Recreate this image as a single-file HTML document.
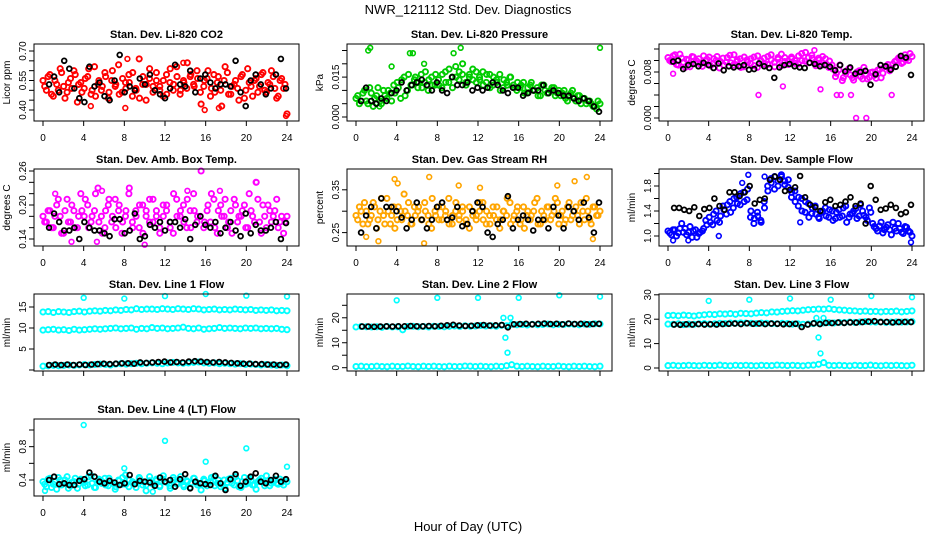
<!DOCTYPE html>
<html><head><meta charset="utf-8">
<style>
body{margin:0;background:#fff;}
svg{display:block;font-family:"Liberation Sans",Arial,sans-serif;}
</style></head>
<body>
<svg id="chart" width="936" height="540" viewBox="0 0 936 540">
<rect width="936" height="540" fill="#fff"/>
<text x="468" y="14" text-anchor="middle" font-size="13">NWR_121112  Std. Dev. Diagnostics</text>
<text x="468" y="531" text-anchor="middle" font-size="13">Hour of Day (UTC)</text>
</svg>
<script>
// ---- data ----
const xTicks = [0,4,8,12,16,20,24];
const co2 = [.55,.50,.58,.47,.53,.61,.52,.49,.56,.60,.44,.54,.51,.57,.48,.62,.53,.50,.59,.46,.55,.52,.63,.49,.54,.58,.47,.51,.66,.53,.45,.56,.52,.59,.50,.55,.48,.61,.53,.57,.50,.54,.64,.58,.52,.56,.43,.55,.60,.51,.49,.57,.42,.62,.48,.52,.55,.45,.58,.50,.54,.47,.56,.52,.59,.49,.53,.57,.46,.55,.51,.38];
const co2B = [.52,.57,.48,.55,.50,.59,.46,.54,.51,.58,.53,.49,.56,.61,.50,.47,.55,.52,.57,.49,.60,.53,.48,.56,.51,.54,.59,.50,.46,.57,.53,.61,.49,.55,.52,.47,.58,.54,.50,.62,.48,.55,.51,.57,.53,.60,.49,.52,.56,.47,.58,.54,.50,.55,.59,.48,.53,.51,.57,.46,.61,.52,.55,.49,.58,.50,.54,.60,.51,.47,.56,.53];
const co2Black = [.53,.57,.49,.65,.61,.51,.46,.44,.62,.52,.54,.47,.45,.55,.68,.49,.52,.50,.56,.53,.58,.50,.48,.46,.51,.63,.53,.52,.60,.49,.56,.58,.54,.51,.53,.53,.52,.65,.49,.42,.55,.58,.53,.48,.51,.58,.66,.51];
const co2OutT = [4.7,8.1,8.3,13.8,15.9,17.3,23.9];
const co2OutV = [.42,.41,.66,.64,.40,.41,.37];

const press = [.007,.005,.009,.006,.011,.004,.008,.006,.010,.007,.009,.012,.013,.007,.015,.010,.012,.014,.011,.016,.013,.010,.015,.012,.014,.011,.017,.013,.015,.019,.014,.016,.012,.015,.018,.013,.014,.012,.016,.011,.015,.013,.010,.014,.012,.015,.011,.013,.012,.009,.011,.013,.010,.008,.012,.010,.009,.011,.008,.010,.009,.007,.008,.010,.006,.008,.007,.005,.006,.004,.003,.005];
const pressB = [.008,.006,.010,.005,.009,.007,.011,.005,.008,.010,.006,.009,.011,.014,.008,.016,.012,.015,.013,.011,.017,.014,.012,.016,.012,.016,.013,.018,.011,.015,.017,.020,.013,.016,.014,.017,.015,.017,.013,.016,.012,.014,.016,.011,.013,.015,.012,.010,.011,.013,.009,.012,.010,.011,.008,.012,.009,.010,.011,.009,.008,.010,.006,.009,.007,.008,.005,.007,.006,.005,.004,.006];
const pressBlack = [.006,.011,.006,.005,.007,.006,.009,.010,.013,.010,.012,.013,.014,.012,.010,.013,.010,.009,.015,.012,.012,.013,.010,.011,.010,.011,.013,.012,.010,.009,.011,.011,.008,.009,.010,.010,.012,.009,.010,.009,.008,.008,.007,.006,.007,.006,.004,.002];
const pressOutT = [1.2,1.4,5.3,5.6,9.6,10.3,24,6.7,3.5,2.3];
const pressOutV = [.025,.026,.024,.024,.024,.026,.026,.020,.019,.004];

const temp = [.0105,.0098,.0110,.0092,.0104,.0088,.0101,.0107,.0095,.0103,.0090,.0099,.0106,.0094,.0100,.0087,.0104,.0097,.0109,.0092,.0098,.0103,.0089,.0101,.0095,.0106,.0088,.0100,.0104,.0093,.0110,.0097,.0102,.0091,.0105,.0099,.0103,.0095,.0108,.0100,.0114,.0096,.0104,.0091,.0101,.0107,.0094,.0099,.0085,.0078,.0092,.0070,.0082,.0075,.0066,.0080,.0072,.0088,.0068,.0079,.0074,.0083,.0070,.0089,.0093,.0086,.0098,.0104,.0095,.0110,.0100,.0107];
const tempB = [.0100,.0108,.0093,.0111,.0097,.0102,.0089,.0106,.0099,.0094,.0108,.0102,.0091,.0103,.0107,.0098,.0092,.0105,.0096,.0110,.0101,.0088,.0106,.0097,.0103,.0091,.0108,.0099,.0094,.0107,.0101,.0089,.0105,.0111,.0098,.0093,.0106,.0100,.0094,.0112,.0099,.0105,.0109,.0097,.0104,.0092,.0103,.0088,.0092,.0072,.0084,.0065,.0077,.0086,.0070,.0074,.0082,.0068,.0076,.0071,.0080,.0069,.0085,.0078,.0090,.0082,.0094,.0100,.0106,.0097,.0103,.0112];
const tempBlack = [.0098,.0100,.0085,.0092,.0094,.0090,.0096,.0092,.0087,.0095,.0083,.0090,.0088,.0090,.0092,.0084,.0085,.0095,.0090,.0087,.0070,.0088,.0092,.0094,.0090,.0088,.0087,.0096,.0094,.0090,.0092,.0089,.0083,.0092,.0081,.0088,.0077,.0080,.0082,.0058,.0076,.0092,.0090,.0084,.0089,.0108,.0105,.0075];
const tempOutT = [8.9,11.3,15.0,16.6,17.0,18.5,19.5,18.0,22.0,14.4,0.5];
const tempOutV = [.0040,.0055,.0050,.0040,.0040,.0000,.0000,.0040,.0040,.0118,.0077];

const amb = [.18,.17,.19,.16,.20,.18,.15,.21,.17,.19,.16,.22,.18,.20,.17,.19,.23,.18,.16,.20,.17,.21,.19,.15,.18,.22,.17,.19,.16,.20,.18,.17,.21,.19,.15,.18,.20,.16,.22,.18,.19,.17,.21,.16,.19,.18,.26,.17,.20,.22,.16,.19,.18,.21,.17,.15,.20,.18,.19,.16,.22,.18,.24,.17,.20,.16,.19,.18,.21,.17,.15,.18];
const ambB = [.17,.19,.16,.18,.21,.15,.19,.17,.20,.16,.18,.19,.21,.16,.18,.22,.17,.15,.19,.21,.18,.16,.20,.17,.19,.23,.16,.18,.20,.15,.19,.21,.17,.18,.16,.20,.19,.17,.15,.21,.18,.20,.16,.19,.22,.17,.18,.16,.19,.17,.21,.15,.20,.18,.16,.19,.21,.17,.18,.20,.16,.19,.17,.21,.15,.18,.20,.17,.19,.16,.18,.17];
const ambBlack = [.16,.185,.17,.155,.155,.16,.14,.17,.16,.155,.155,.15,.145,.175,.175,.15,.155,.185,.14,.145,.165,.16,.17,.155,.17,.17,.16,.175,.14,.165,.18,.165,.16,.17,.15,.16,.17,.155,.145,.185,.15,.165,.155,.155,.16,.17,.14,.168];
const ambOutT = [1.2,2.8,10,5.3,5.8,14.2,21,17.4];
const ambOutV = [.22,.135,.13,.135,.225,.225,.24,.225];

const rh = [.29,.31,.27,.30,.28,.32,.26,.30,.29,.33,.27,.31,.28,.30,.34,.29,.27,.31,.30,.28,.32,.29,.26,.30,.31,.28,.29,.33,.27,.30,.29,.31,.28,.26,.30,.29,.32,.28,.30,.27,.29,.31,.28,.30,.33,.27,.29,.31,.28,.26,.30,.29,.32,.27,.30,.28,.31,.29,.33,.27,.30,.28,.32,.29,.31,.27,.30,.33,.28,.31,.29,.30];
const rhB = [.28,.30,.32,.27,.29,.31,.28,.33,.27,.30,.29,.26,.31,.28,.30,.32,.27,.29,.31,.28,.30,.27,.33,.29,.28,.31,.30,.27,.29,.32,.28,.30,.27,.31,.29,.28,.30,.32,.27,.29,.31,.28,.26,.30,.29,.32,.28,.30,.27,.31,.29,.28,.30,.33,.27,.29,.31,.28,.30,.32,.29,.27,.31,.28,.30,.29,.32,.28,.30,.27,.31,.29];
const rhBlack = [.25,.29,.31,.26,.33,.31,.31,.30,.285,.26,.28,.32,.28,.26,.28,.31,.32,.28,.285,.31,.265,.27,.30,.32,.31,.25,.24,.27,.28,.335,.26,.28,.29,.28,.255,.28,.28,.26,.31,.29,.26,.31,.30,.28,.32,.285,.25,.32];
const rhOutT = [3.8,4.1,7.2,6.7,2.2,10.1,19.8,22.7,21.5,23.3,1.0,12.2];
const rhOutV = [.375,.365,.38,.225,.23,.36,.36,.38,.37,.235,.24,.355];

const flow = [1.08,1.02,1.10,1.05,1.20,1.12,1.06,0.98,1.10,1.04,1.08,1.25,1.30,1.18,1.40,1.22,1.48,1.35,1.55,1.45,1.62,1.50,1.70,1.58,1.30,1.20,1.38,1.25,1.55,1.80,1.92,1.75,1.88,1.95,1.82,1.90,1.70,1.55,1.62,1.40,1.55,1.30,1.45,1.35,1.28,1.40,1.32,1.42,1.25,1.38,1.30,1.45,1.22,1.35,1.40,1.28,1.50,1.33,1.25,1.38,1.15,1.08,1.22,1.10,1.18,1.02,1.12,1.20,1.06,1.15,1.08,1.00];
const flowB = [1.05,1.10,1.00,1.12,1.06,1.02,1.15,1.08,0.98,1.06,1.12,1.18,1.22,1.35,1.25,1.32,1.42,1.50,1.38,1.60,1.52,1.68,1.55,1.75,1.40,1.28,1.32,1.22,1.45,1.72,1.85,1.95,1.80,1.98,1.88,1.78,1.62,1.72,1.48,1.60,1.38,1.52,1.36,1.48,1.30,1.38,1.45,1.30,1.40,1.28,1.42,1.32,1.48,1.30,1.36,1.44,1.32,1.40,1.30,1.45,1.20,1.12,1.16,1.05,1.14,1.10,1.22,1.08,1.12,1.04,1.14,1.06];
const flowBlack = [1.45,1.45,1.42,1.40,1.46,1.32,1.43,1.45,1.60,1.48,1.42,1.70,1.70,1.64,1.70,1.80,1.52,1.58,1.60,1.90,1.95,1.90,1.72,1.74,1.78,1.96,1.62,1.50,1.46,1.40,1.54,1.58,1.48,1.50,1.55,1.62,1.48,1.52,1.20,1.80,1.58,1.42,1.44,1.50,1.45,1.35,1.38,1.50];
const flowOutT = [7.9,10.3,0.5,23.9,13,2,5,7.3,9.5];
const flowOutV = [1.98,2.1,0.93,0.9,1.22,0.93,1.0,1.85,1.95];

const l1Top = [13.8,13.9,13.7,13.9,13.8,13.7,13.9,14.0,13.8,14.0,14.1,14.0,14.2,14.1,14.3,14.2,14.4,14.3,14.6,14.4,14.5,14.5,14.4,14.6,14.5,14.4,14.6,14.5,14.4,14.6,14.5,14.3,14.4,14.5,14.3,14.4,14.3,14.5,14.4,14.3,14.4,14.2,14.3,14.2,14.3,14.1,14.2,14.1];
const l1Mid = [9.5,9.6,9.7,9.5,9.6,9.4,9.7,9.5,9.6,9.7,9.8,9.7,9.8,9.9,10.0,9.8,9.9,10.0,9.7,9.9,9.8,10.1,9.9,10.0,9.8,9.9,10.0,10.2,9.9,9.8,10.0,9.7,9.8,9.9,10.1,9.9,10.0,9.9,9.8,10.0,9.9,10.0,9.8,9.9,9.8,9.9,9.7,9.6];
const l1Low = [0.9,1.0,1.1,1.0,1.1,1.2,1.1,1.2,1.3,1.2,1.3,1.4,1.3,1.2,1.4,1.5,1.4,1.5,1.6,1.5,1.6,1.7,1.6,1.5,1.7,1.8,1.7,1.6,1.7,1.8,1.9,1.7,1.6,1.7,1.5,1.6,1.5,1.4,1.5,1.3,1.4,1.3,1.2,1.3,1.2,1.1,1.2,1.0];
const l1Black = [1.2,1.3,1.2,1.3,1.2,1.3,1.2,1.3,1.4,1.5,1.4,1.5,1.6,1.6,1.5,1.8,1.7,1.8,1.9,2.0,1.8,1.9,1.8,2.0,2.1,2.0,1.9,1.8,1.9,1.8,1.7,1.6,1.5,1.5,1.4,1.4,1.3,1.3,1.2,1.3];
const l1OutT = [4,8,12,16,20,24];
const l1OutV = [17.2,17.0,17.6,18.1,17.7,17.5];

const l2Band = [16.3,16.5,16.4,16.3,16.4,16.2,16.5,16.3,16.4,15.2,16.5,16.6,16.4,16.5,16.3,16.6,16.5,16.4,16.6,16.7,16.5,16.8,16.6,16.7,16.9,16.7,16.8,16.6,17.0,16.8,17.4,17.2,17.3,17.1,17.4,17.2,17.3,17.5,17.2,17.4,17.3,17.5,17.4,17.2,17.5,17.4,17.6,17.5];
const l2Low = [0.5,0.6,0.4,0.5,0.6,0.5,0.4,0.6,0.5,0.5,0.7,0.5,0.4,0.6,0.5,0.6,0.5,0.4,0.6,0.5,0.5,0.7,0.6,0.5,0.6,0.5,0.4,0.6,0.5,0.8,1.2,0.6,0.5,0.6,0.5,0.4,0.6,0.5,0.5,0.7,0.5,0.4,0.6,0.5,0.6,0.5,0.4,0.6];
const l2Black = [16.5,16.5,16.4,16.5,16.6,16.5,16.6,16.6,16.7,16.6,16.6,16.7,16.6,16.8,17.0,17.2,16.9,16.7,16.8,17.0,17.1,16.9,17.0,17.1,16.2,17.4,17.5,17.6,17.4,17.6,17.7,17.5,17.6,17.4,17.7,17.5,17.6,17.4,17.5,17.6];
const l2OutT = [4,8,12,16,20,24,14.5,14.7,14.9,15.2];
const l2OutV = [27,28,28,28,29,28.5,20,12,6,20];

const l3Top = [21.5,21.6,21.4,21.7,21.5,21.3,21.6,21.8,22.0,21.9,22.2,22.1,22.3,22.0,22.4,22.3,22.2,22.5,22.7,22.6,23.0,22.9,23.2,23.3,23.5,23.4,23.7,23.9,24.0,24.2,24.1,24.3,24.0,23.8,23.7,23.5,23.4,23.2,23.3,23.1,23.2,23.0,23.2,23.1,23.3,23.0,23.2,23.4];
const l3Mid = [18.0,17.9,18.1,17.8,18.0,17.9,18.1,18.2,18.0,18.1,18.3,18.2,18.4,18.3,18.5,18.4,18.3,18.2,18.4,18.3,18.2,18.1,18.3,18.2,18.0,18.1,17.9,18.0,18.2,18.4,18.5,18.6,18.5,18.7,18.6,18.8,18.7,18.9,19.0,18.9,18.8,18.9,18.7,18.8,18.9,18.8,18.9,19.0];
const l3Low = [1.0,1.1,0.9,1.0,1.1,1.0,0.9,1.1,1.0,1.0,1.2,1.0,0.9,1.1,1.0,1.1,1.0,0.9,1.1,1.0,1.0,1.2,1.1,1.0,1.1,1.0,0.9,1.1,1.2,1.5,2.2,1.1,1.0,1.1,1.0,0.9,1.1,1.0,1.0,1.2,1.0,0.9,1.1,1.0,1.1,1.0,0.9,1.1];
const l3Black = [17.8,17.7,17.9,17.8,18.0,17.8,17.9,17.8,18.0,18.1,18.2,18.0,18.3,18.1,18.2,18.0,18.2,18.1,17.9,18.0,18.1,16.8,17.8,18.3,18.0,18.5,18.4,18.6,18.5,18.7,18.6,18.8,19.0,19.2,18.8,18.9,18.7,18.8,18.9,18.8];
const l3OutT = [4,8,12,16,20,24,14.6,14.8,15.0,15.3];
const l3OutV = [27.5,28,28.5,28,29.5,29,20.5,12.5,6,20.5];

const l4 = [.38,.32,.42,.35,.29,.40,.36,.44,.33,.38,.30,.41,.37,.34,.45,.31,.39,.36,.42,.33,.37,.29,.40,.35,.46,.32,.38,.36,.43,.34,.27,.39,.36,.41,.33,.45,.37,.30,.40,.35,.44,.32,.38,.36,.42,.34,.28,.39,.37,.43,.33,.40,.35,.30,.41,.36,.44,.32,.38,.35,.42,.34,.29,.40,.37,.45,.33,.39,.36,.41,.34,.38];
const l4B = [.35,.41,.31,.38,.43,.34,.40,.30,.37,.42,.35,.39,.33,.44,.36,.31,.41,.38,.34,.42,.36,.32,.39,.43,.35,.40,.37,.31,.42,.38,.34,.44,.35,.39,.32,.41,.37,.33,.43,.36,.40,.34,.39,.31,.42,.37,.35,.41,.33,.38,.44,.36,.32,.40,.37,.42,.34,.39,.31,.43,.36,.40,.34,.38,.42,.33,.39,.36,.41,.35,.37,.40];
const l4Black = [.40,.44,.35,.36,.34,.34,.39,.41,.49,.44,.38,.36,.39,.37,.34,.36,.46,.35,.39,.38,.37,.33,.43,.38,.40,.32,.41,.47,.30,.38,.36,.35,.34,.45,.36,.28,.41,.47,.33,.38,.44,.48,.38,.36,.40,.45,.38,.41];
const l4OutT = [4,8,12,16,20,24,10.8,0.2];
const l4OutV = [1.06,.54,.87,.62,.78,.56,.26,.27];

// ---- panels ----
const panels = [
 {id:'co2',title:'Stan. Dev. Li-820 CO2',ylab:'Licor ppm',col:0,row:0,cal:[.40,66,.70,7],ticks:[.40,.45,.50,.55,.60,.65,.70],labels:['0.40','','','0.55','','','0.70'],color:'#ff0000',
  series:[[co2,0,24],[co2B,0.17,23.8]],black:[[co2Black,0.6,23.9]],outT:co2OutT,outV:co2OutV,xl:true},
 {id:'pressure',title:'Stan. Dev. Li-820 Pressure',ylab:'kPa',col:1,row:0,cal:[0,73,.025,6.5],ticks:[0,.005,.010,.015,.020,.025],labels:['0.000','','','0.015','',''],color:'#00cc00',
  series:[[press,0,24],[pressB,0.17,23.8]],black:[[pressBlack,0.5,23.9]],outT:pressOutT,outV:pressOutV,xl:true},
 {id:'temp',title:'Stan. Dev. Li-820 Temp.',ylab:'degrees C',col:2,row:0,cal:[0,74,.012,5],ticks:[0,.002,.004,.006,.008,.010,.012],labels:['0.000','','','','0.008','',''],color:'#ff00ff',
  series:[[temp,0,24],[tempB,0.17,23.8]],black:[[tempBlack,0.5,23.9]],outT:tempOutT,outV:tempOutV,xl:true},
 {id:'ambbox',title:'Stan. Dev. Amb. Box Temp.',ylab:'degrees C',col:0,row:1,cal:[.14,70,.26,2],ticks:[.14,.16,.18,.20,.22,.24,.26],labels:['0.14','','','0.20','','','0.26'],color:'#ff00ff',
  series:[[amb,0,24],[ambB,0.17,23.8]],black:[[ambBlack,0.6,23.9]],outT:ambOutT,outV:ambOutV,xl:true},
 {id:'rh',title:'Stan. Dev. Gas Stream RH',ylab:'percent',col:1,row:1,cal:[.25,63.6,.35,20.8],ticks:[.25,.30,.35],labels:['0.25','','0.35'],color:'#ffa500',
  series:[[rh,0,24],[rhB,0.17,23.8]],black:[[rhBlack,0.5,23.9]],outT:rhOutT,outV:rhOutV,xl:true},
 {id:'sampleflow',title:'Stan. Dev. Sample Flow',ylab:'ml/min',col:2,row:1,cal:[1.0,67,1.8,17],ticks:[1.0,1.2,1.4,1.6,1.8,2.0],labels:['1.0','','1.4','','1.8',''],color:'#0000ff',
  series:[[flow,0,24],[flowB,0.17,23.8]],black:[[flowBlack,0.6,23.9]],outT:flowOutT,outV:flowOutV,xl:true},
 {id:'line1',title:'Stan. Dev. Line 1 Flow',ylab:'ml/min',col:0,row:2,cal:[0,76,15,13],ticks:[0,5,10,15],labels:['','5','10','15'],color:'#00ffff',
  series:[[l1Top,0,24],[l1Mid,0,24],[l1Low,0,24]],black:[[l1Black,0.6,23.9]],outT:l1OutT,outV:l1OutV,xl:false},
 {id:'line2',title:'Stan. Dev. Line 2 Flow',ylab:'ml/min',col:1,row:2,cal:[0,73.7,25,11.3],ticks:[0,5,10,15,20,25],labels:['0','','10','','20',''],color:'#00ffff',
  series:[[l2Band,0,24],[l2Low,0,24]],black:[[l2Black,0.6,23.9]],outT:l2OutT,outV:l2OutV,xl:false},
 {id:'line3',title:'Stan. Dev. Line 3 Flow',ylab:'ml/min',col:2,row:2,cal:[0,74,30,0.8],ticks:[0,10,20,30],labels:['0','10','20','30'],color:'#00ffff',
  series:[[l3Top,0,24],[l3Mid,0,24],[l3Low,0,24]],black:[[l3Black,0.6,23.9]],outT:l3OutT,outV:l3OutV,xl:false},
 {id:'line4',title:'Stan. Dev. Line 4 (LT) Flow',ylab:'ml/min',col:0,row:3,cal:[.4,61,1.0,11],ticks:[.4,.6,.8,1.0],labels:['0.4','','0.8',''],color:'#00ffff',
  series:[[l4,0,24],[l4B,0.17,23.8]],black:[[l4Black,0.6,23.9]],outT:l4OutT,outV:l4OutV,xl:true}
];

const NS='http://www.w3.org/2000/svg';
const svg=document.getElementById('chart');
const colLeft=[34,347,659], rowTop=[44,169,294,419], BW=265, BH=77;
function mk(tag,attrs,parent){const e=document.createElementNS(NS,tag);for(const k in attrs)e.setAttribute(k,attrs[k]);parent.appendChild(e);return e;}

panels.forEach(p=>{
  const L=colLeft[p.col], T=rowTop[p.row];
  const g=mk('g',{},svg);
  
  
  const xs=v=>L+9+v/24*244;
  const [v0,p0,v1,p1]=p.cal;
  const ys=v=>T+p0+(v-v0)/(v1-v0)*(p1-p0);
  const t=mk('text',{x:L+BW/2,y:T-6,'text-anchor':'middle','font-size':'11','font-weight':'bold'},g);
  t.textContent=p.title;
  
  
  const yl=mk('text',{x:0,y:0,'text-anchor':'middle','font-size':'10',transform:`translate(${L-24},${T+BH/2}) rotate(-90)`},g);
  yl.textContent=p.ylab;
  
  
  const pts=mk('g',{fill:'none'},g);
  
  
  const dot=(t,v,c,r,sw)=>{const y=ys(v);if(y<T-1||y>T+BH+1)return;const e=mk('circle',{cx:xs(t).toFixed(1),cy:y.toFixed(1),r:r,stroke:c,'stroke-width':sw},pts);
    
    };
  p.series.forEach(([arr,a,b])=>arr.forEach((v,i)=>dot(a+(b-a)*i/(arr.length-1),v,p.color,2.6,1.9)));
  p.outT.forEach((tt,i)=>dot(tt,p.outV[i],p.color,2.4,1.6));
  p.black.forEach(([arr,a,b])=>arr.forEach((v,i)=>dot(a+(b-a)*i/(arr.length-1),v,'#000',2.4,1.8)));
  const box=mk('rect',{x:L,y:T,width:BW,height:BH,fill:'none',stroke:'#000','stroke-width':'1'},g);
  
  
  xTicks.forEach(v=>{
    mk('line',{x1:xs(v),x2:xs(v),y1:T+BH,y2:T+BH+5,stroke:'#000'},g);
    if(p.xl){const tl=mk('text',{x:xs(v),y:T+BH+20,'text-anchor':'middle','font-size':'10'},g);tl.textContent=v;
      
      }
  });
  p.ticks.forEach((v,i)=>{
    const y=ys(v);
    mk('line',{x1:L-5,x2:L,y1:y,y2:y,stroke:'#000'},g);
    if(p.labels[i]){const tl=mk('text',{x:0,y:0,'text-anchor':'middle','font-size':'10',transform:`translate(${L-8},${y}) rotate(-90)`},g);tl.textContent=p.labels[i];
      
      }
  });
});
</script>
</body></html>
